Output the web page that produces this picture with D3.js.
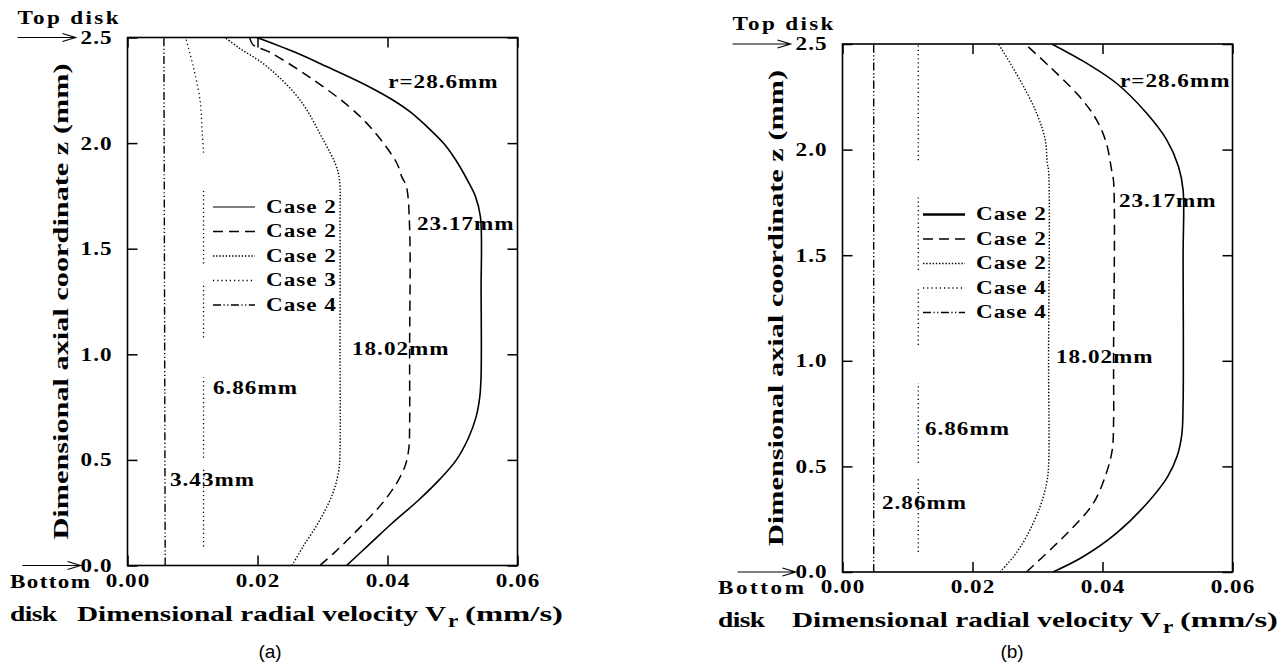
<!DOCTYPE html>
<html>
<head>
<meta charset="utf-8">
<script src="https://cdn.jsdelivr.net/npm/d3@7"></script>
<style>
  html, body { margin: 0; padding: 0; background: #fff; }
  svg { display: block; }
  text {
    font-family: "Liberation Serif", "Times New Roman", serif;
    font-weight: bold;
    font-size: 18.5px;
    fill: #000;
    letter-spacing: 0.8px;
  }
  text.title { font-size: 22px; letter-spacing: 0; }
  text.fit { letter-spacing: 0; }
  text.caption {
    font-family: "Liberation Sans", Arial, sans-serif;
    font-weight: normal;
    font-size: 19px;
    letter-spacing: 0;
  }
</style>
</head>
<body>
<svg id="chart" width="1287" height="666"></svg>
<script>
// ---- axis ticks ----
const xTickValues = [0.00, 0.02, 0.04, 0.06];
const yTickValues = [0.0, 0.5, 1.0, 1.5, 2.0, 2.5];

// ---- legend and curve labels ----
const legendLabelsA = ["Case 2", "Case 2", "Case 2", "Case 3", "Case 4"];
const legendLabelsB = ["Case 2", "Case 2", "Case 2", "Case 4", "Case 4"];
const radiusLabelsA = ["r=28.6mm", "23.17mm", "18.02mm", "6.86mm", "3.43mm"];
const radiusLabelsB = ["r=28.6mm", "23.17mm", "18.02mm", "6.86mm", "2.86mm"];

// ---- velocity profiles: [Vr (mm/s), z (mm)] ; null = break in the line ----
// (a)
const profA_r286 = [[0.0337,0],[0.0372,0.10],[0.0407,0.20],[0.0448,0.31],[0.0481,0.41],[0.0506,0.50],
  [0.0524,0.60],[0.0536,0.70],[0.0542,0.80],[0.0544,0.90],[0.0544,1.30],[0.0543,1.65],[0.0535,1.75],
  [0.0522,1.83],[0.0505,1.92],[0.0486,2.00],[0.0460,2.08],[0.0434,2.15],[0.0405,2.21],[0.0376,2.26],
  [0.0350,2.30],[0.0308,2.36],[0.0258,2.43],[0.0199,2.50]];
const profA_r2317 = [[0.0296,0],[0.0318,0.06],[0.0348,0.15],[0.0373,0.23],[0.0396,0.31],[0.0416,0.40],
  [0.0428,0.48],[0.0433,0.56],[0.0434,0.65],[0.0434,1.00],[0.0434,1.60],[0.0429,1.795],[0.0422,1.84],
  [0.0414,1.907],[0.0378,2.06],[0.0342,2.17],[0.0281,2.31],[0.0219,2.43],[0.0193,2.466],[0.0188,2.50]];
const profA_r1802 = [[0.0253,0],[0.0270,0.089],[0.0296,0.216],[0.0316,0.343],[0.0325,0.45],[0.0327,0.55],
  [0.0327,1.00],[0.0327,1.60],[0.0326,1.83],[0.0320,1.90],[0.0301,2.016],[0.0265,2.206],[0.0214,2.364],
  [0.0172,2.45],[0.0150,2.50]];
const profA_r686 = [[0.0117,0.09],[0.0117,0.46], null, [0.0117,0.51],[0.0117,0.89], null,
  [0.0117,1.08],[0.0117,1.34], null, [0.0117,1.43],[0.0117,1.78], null,
  [0.0117,1.955],[0.0115,2.048],[0.01115,2.206],[0.0101,2.364],[0.00895,2.50]];
const profA_r343 = [[0.0058,0],[0.0057,1.25],[0.0056,2.50]];
// (b)
const profB_r286 = [[0.0324,0],[0.0370,0.072],[0.0422,0.185],[0.0473,0.341],[0.0500,0.45],[0.0515,0.55],
  [0.0522,0.65],[0.0524,0.80],[0.0524,1.50],[0.0524,1.808],[0.0517,1.919],[0.0499,2.045],[0.0468,2.172],
  [0.0422,2.313],[0.0376,2.408],[0.0322,2.50]];
const profB_r2317 = [[0.0283,0],[0.0324,0.118],[0.0355,0.213],[0.0386,0.326],[0.0406,0.469],[0.0415,0.578],
  [0.0417,0.70],[0.0417,1.00],[0.0417,1.85],[0.0414,1.903],[0.0406,2.03],[0.0391,2.14],[0.0365,2.25],
  [0.0319,2.392],[0.0281,2.50]];
const profB_r1802 = [[0.0242,0],[0.0263,0.072],[0.0283,0.167],[0.0304,0.31],[0.0314,0.42],[0.0317,0.50],
  [0.0317,1.00],[0.0317,1.90],[0.0315,1.936],[0.0312,2.045],[0.0299,2.17],[0.0273,2.33],[0.0240,2.50]];
const profB_r686 = [[0.01166,0.095],[0.01166,0.45], null, [0.01166,0.516],[0.01166,0.895], null,
  [0.01166,1.075],[0.01166,1.35], null, [0.01166,1.43],[0.01166,1.785], null,
  [0.01166,1.95],[0.01166,2.50]];
const profB_r286b = [[0.0048,0],[0.0048,1.25],[0.0048,2.50]];

// ---- line styles, in series order ----
const styles = {
  solid:   { dash: null,                      width: 1.6 },
  dashed:  { dash: "10,6",                    width: 1.5 },
  dotted:  { dash: "1.4,1.8",                 width: 1.4 },
  sparse:  { dash: "1.2,3.0",                 width: 1.3 },
  dashdot: { dash: "8,2.5,1.2,2.5,1.2,2.5",   width: 1.4 }
};
const styleOrder = ["solid", "dashed", "dotted", "sparse", "dashdot"];

// horizontal widening applied to the serif lettering
const WIDEN = 1.25;

const panels = [
  {
    id: "a", x0: 127.5, x1: 517.5, yTop: 37.5, yBot: 565.5,
    series: [profA_r286, profA_r2317, profA_r1802, profA_r686, profA_r343],
    legend: legendLabelsA, legendX: 213, legendY: 207, legendSolidWidth: 1.2,
    labels: radiusLabelsA,
    labelAt: [[0.0401,2.263],[0.04454,1.590],[0.03454,0.998],[0.01315,0.813],[0.00654,0.377]],
    topDiskY: 24, caption: "(a)", captionX: 270, yTitleX: 60, bottomX: 10, bottomSpan: 80
  },
  {
    id: "b", x0: 842.5, x1: 1232.5, yTop: 44, yBot: 572,
    series: [profB_r286, profB_r2317, profB_r1802, profB_r686, profB_r286b],
    legend: legendLabelsB, legendX: 923, legendY: 214.5, legendSolidWidth: 2.4,
    labels: radiusLabelsB,
    labelAt: [[0.04269,2.296],[0.04254,1.728],[0.03285,0.990],[0.01269,0.649],[0.00608,0.298]],
    topDiskY: 30, caption: "(b)", captionX: 1012, yTitleX: 775, bottomX: 718, bottomSpan: 86
  }
];

const svg = d3.select("#chart");

function arrow(g, xa, xb, yy) {
  g.append("path")
    .attr("d", `M${xa},${yy}H${xb}M${xb - 13},${yy - 4}L${xb},${yy}L${xb - 13},${yy + 4}`)
    .attr("fill", "none").attr("stroke", "#000").attr("stroke-width", 1.2);
}

// a text fitted to a given span (after widening)
function fitText(g, cls, x, y, span, str, adjust) {
  return g.append("text").attr("class", cls).attr("x", x).attr("y", y)
    .attr("textLength", span / WIDEN).attr("lengthAdjust", adjust || "spacing").text(str);
}

panels.forEach(p => {
  const g = svg.append("g");
  const x = d3.scaleLinear().domain([0, 0.06]).range([p.x0, p.x1]);
  const y = d3.scaleLinear().domain([0, 2.5]).range([p.yBot, p.yTop]);

  const clipId = "clip-" + p.id;
  svg.append("clipPath").attr("id", clipId)
    .append("rect").attr("x", p.x0).attr("y", p.yTop)
    .attr("width", p.x1 - p.x0).attr("height", p.yBot - p.yTop);

  // axes with inward ticks on all four sides
  const axB = g.append("g").attr("transform", `translate(0,${p.yBot})`)
    .call(d3.axisBottom(x).tickValues(xTickValues).tickSizeInner(-10).tickSizeOuter(0)
      .tickPadding(8).tickFormat(d3.format(".2f")));
  const axT = g.append("g").attr("transform", `translate(0,${p.yTop})`)
    .call(d3.axisTop(x).tickValues(xTickValues).tickSizeInner(-10).tickSizeOuter(0).tickFormat(""));
  const axL = g.append("g").attr("transform", `translate(${p.x0},0)`)
    .call(d3.axisLeft(y).tickValues(yTickValues).tickSizeInner(-10).tickSizeOuter(0)
      .tickPadding(15).tickFormat(d3.format(".1f")));
  const axR = g.append("g").attr("transform", `translate(${p.x1},0)`)
    .call(d3.axisRight(y).tickValues(yTickValues).tickSizeInner(-10).tickSizeOuter(0).tickFormat(""));
  [axB, axT, axL, axR].forEach(a => {
    a.select(".domain").remove();
    a.selectAll(".tick line").attr("stroke", "#000").attr("stroke-width", 1.5);
  });

  // frame
  g.append("rect").attr("x", p.x0).attr("y", p.yTop)
    .attr("width", p.x1 - p.x0).attr("height", p.yBot - p.yTop)
    .attr("fill", "none").attr("stroke", "#000").attr("stroke-width", 1.6);

  // profiles
  const line = d3.line()
    .defined(d => d !== null)
    .x(d => x(d[0])).y(d => y(d[1]))
    .curve(d3.curveCatmullRom.alpha(0.5));
  g.append("g").attr("clip-path", `url(#${clipId})`)
    .selectAll("path").data(p.series).join("path")
    .attr("d", d => line(d))
    .attr("fill", "none").attr("stroke", "#000")
    .attr("stroke-width", (d, i) => styles[styleOrder[i]].width)
    .attr("stroke-dasharray", (d, i) => styles[styleOrder[i]].dash);

  // curve labels
  g.selectAll("text.rlab").data(p.labels).join("text").attr("class", "rlab")
    .attr("x", (d, i) => x(p.labelAt[i][0]))
    .attr("y", (d, i) => y(p.labelAt[i][1]))
    .text(d => d);

  // legend
  const lg = g.append("g");
  p.legend.forEach((lab, i) => {
    const st = styles[styleOrder[i]];
    const yy = p.legendY + i * 24.5;
    lg.append("line").attr("x1", p.legendX).attr("x2", p.legendX + 42)
      .attr("y1", yy).attr("y2", yy).attr("stroke", "#000")
      .attr("stroke-width", i === 0 ? p.legendSolidWidth : st.width)
      .attr("stroke-dasharray", st.dash);
    lg.append("text").attr("x", p.legendX + 53).attr("y", yy + 6).text(lab);
  });

  // disk markers
  fitText(g, "fit", p.x0 - 110, p.topDiskY, 101, "Top disk");
  arrow(g, p.x0 - 110, p.x0 - 52, p.yTop);
  arrow(g, p.x0 - 105, p.x0 - 47, p.yBot);
  fitText(g, "fit", p.bottomX, p.yBot + 22.5, p.bottomSpan, "Bottom");
  fitText(g, "title", p.bottomX, p.yBot + 55.5, 47, "disk");

  // axis titles
  const tx = p.x0 - 50.5, ty = p.yBot + 55.5;
  fitText(g, "title", tx, ty, 369, "Dimensional radial velocity V", "spacingAndGlyphs");
  g.append("text").attr("x", tx + 371).attr("y", ty + 6).attr("class", "fit").text("r");
  fitText(g, "title", tx + 388, ty, 98, "(mm/s)", "spacingAndGlyphs");

  g.append("text").attr("class", "title ytitle")
    .attr("transform", `translate(${p.yTitleX},${(p.yTop + p.yBot) / 2}) rotate(-90) scale(${WIDEN},1)`)
    .attr("text-anchor", "middle").attr("dominant-baseline", "central")
    .attr("textLength", 476 / WIDEN).attr("lengthAdjust", "spacingAndGlyphs")
    .text("Dimensional axial coordinate z (mm)");

  g.append("text").attr("class", "caption").attr("x", p.captionX).attr("y", 658)
    .attr("text-anchor", "middle").text(p.caption);
});

// widen every serif text horizontally about its own anchor point
svg.selectAll("text").filter(function () {
  const c = this.getAttribute("class") || "";
  return !c.includes("caption") && !c.includes("ytitle");
}).each(function () {
  const t = d3.select(this);
  const ax = +(t.attr("x") || 0), ay = +(t.attr("y") || 0);
  t.attr("transform", `translate(${ax},${ay}) scale(${WIDEN},1) translate(${-ax},${-ay})`);
});
</script>
</body>
</html>
